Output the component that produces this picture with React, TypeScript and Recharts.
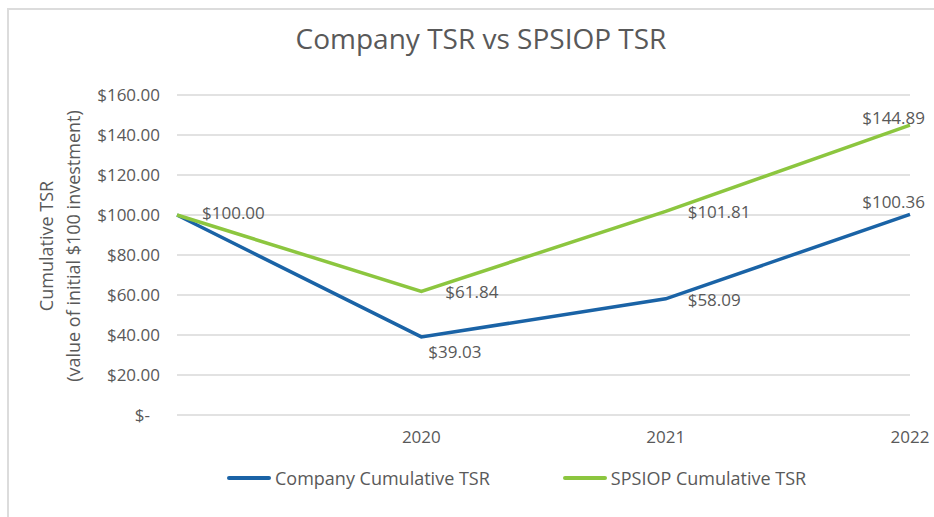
import React from 'react';
import { LineChart, Line, XAxis, YAxis, CartesianGrid, LabelList } from 'recharts';

const years = ['', '2020', '2021', '2022'];
const companyTsr = [100.0, 39.03, 58.09, 100.36];
const spsiopTsr = [100.0, 61.84, 101.81, 144.89];
const yTicks = [0, 20, 40, 60, 80, 100, 120, 140, 160];

const BLUE = '#1a63a6';
const GREEN = '#8cc63f';
const TEXT = '#595959';
const FONT = '"Open Sans", sans-serif';

const data = years.map((year, i) => ({
  year,
  company: companyTsr[i],
  spsiop: spsiopTsr[i],
}));

// label placement relative to each point: [dx, dy, anchor]
type Off = [number, number, 'start' | 'end'] | null;
const companyOffsets: Off[] = [null, [7, 15, 'start'], [22, 1, 'start'], [15, -12, 'end']];
const spsiopOffsets: Off[] = [[25, -2, 'start'], [24, 1, 'start'], [22, 1, 'start'], [15, -7, 'end']];

const money = (v: number) => `$${v.toFixed(2)}`;

const makeLabel = (offsets: Off[]) => (props: any) => {
  const { x, y, value, index } = props;
  const off = offsets[index];
  if (!off) return null;
  return (
    <text
      x={x + off[0]}
      y={y + off[1]}
      dy={6}
      textAnchor={off[2]}
      fill={TEXT}
      fontSize={17}
      fontFamily={FONT}
    >
      {money(value)}
    </text>
  );
};

const YTick = ({ x, y, payload }: any) => (
  <text
    x={payload.value === 0 ? x - 10 : x}
    y={y}
    dy={6}
    textAnchor="end"
    fill={TEXT}
    fontSize={17}
    fontFamily={FONT}
  >
    {payload.value === 0 ? '$-' : money(payload.value)}
  </text>
);

const XTick = ({ x, y, payload }: any) => (
  <text x={x} y={y} dy={14} textAnchor="middle" fill={TEXT} fontSize={17} fontFamily={FONT}>
    {payload.value}
  </text>
);

export default function App() {
  return (
    <div style={{ position: 'relative', width: 934, height: 517, background: '#fff', overflow: 'hidden' }}>
      <style>{`body{margin:0;overflow:hidden}`}</style>
      <div
        style={{
          position: 'absolute',
          left: 7,
          top: 8,
          width: 940,
          height: 520,
          borderTop: '2px solid #dcdcdc',
          borderLeft: '2px solid #dcdcdc',
        }}
      />
      <div
        style={{
          position: 'absolute',
          left: 0,
          width: 962,
          top: 19,
          textAlign: 'center',
          fontFamily: FONT,
          fontSize: 28,
          color: TEXT,
        }}
      >
        Company TSR vs SPSIOP TSR
      </div>
      <div
        style={{
          position: 'absolute',
          left: 60,
          top: 246,
          width: 320,
          transform: 'translate(-50%, -50%) rotate(-90deg)',
          textAlign: 'center',
          fontFamily: FONT,
          fontSize: 18,
          lineHeight: '27px',
          color: TEXT,
        }}
      >
        Cumulative TSR
        <br />
        (value of initial $100 investment)
      </div>
      <div style={{ position: 'absolute', left: 0, top: 0 }}>
        <LineChart width={934} height={517} data={data} margin={{ top: 95, right: 24, left: 0, bottom: 72 }}>
          <CartesianGrid vertical={false} stroke="#d9d9d9" strokeWidth={1.5} />
          <XAxis
            dataKey="year"
            scale="point"
            padding={{ left: 0, right: 0 }}
            axisLine={false}
            tickLine={false}
            tickSize={0}
            tickMargin={14}
            interval={0}
            height={30}
            tick={<XTick />}
          />
          <YAxis
            width={177}
            domain={[0, 160]}
            ticks={yTicks}
            axisLine={false}
            tickLine={false}
            tickSize={0}
            tickMargin={17}
            tick={<YTick />}
          />
          <Line
            dataKey="company"
            stroke={BLUE}
            strokeWidth={3.5}
            dot={false}
            isAnimationActive={false}
          >
            <LabelList dataKey="company" content={makeLabel(companyOffsets)} />
          </Line>
          <Line
            dataKey="spsiop"
            stroke={GREEN}
            strokeWidth={3.5}
            dot={false}
            isAnimationActive={false}
          >
            <LabelList dataKey="spsiop" content={makeLabel(spsiopOffsets)} />
          </Line>
        </LineChart>
      </div>
      <div
        style={{
          position: 'absolute',
          top: 466,
          left: 227,
          display: 'flex',
          gap: 73,
          fontFamily: FONT,
          fontSize: 18,
          color: TEXT,
        }}
      >
        {[
          { name: 'Company Cumulative TSR', color: BLUE },
          { name: 'SPSIOP Cumulative TSR', color: GREEN },
        ].map((item) => (
          <div key={item.name} style={{ display: 'flex', alignItems: 'center', gap: 4 }}>
            <span style={{ display: 'inline-block', width: 44, height: 4, borderRadius: 2, background: item.color }} />
            <span>{item.name}</span>
          </div>
        ))}
      </div>
    </div>
  );
}
